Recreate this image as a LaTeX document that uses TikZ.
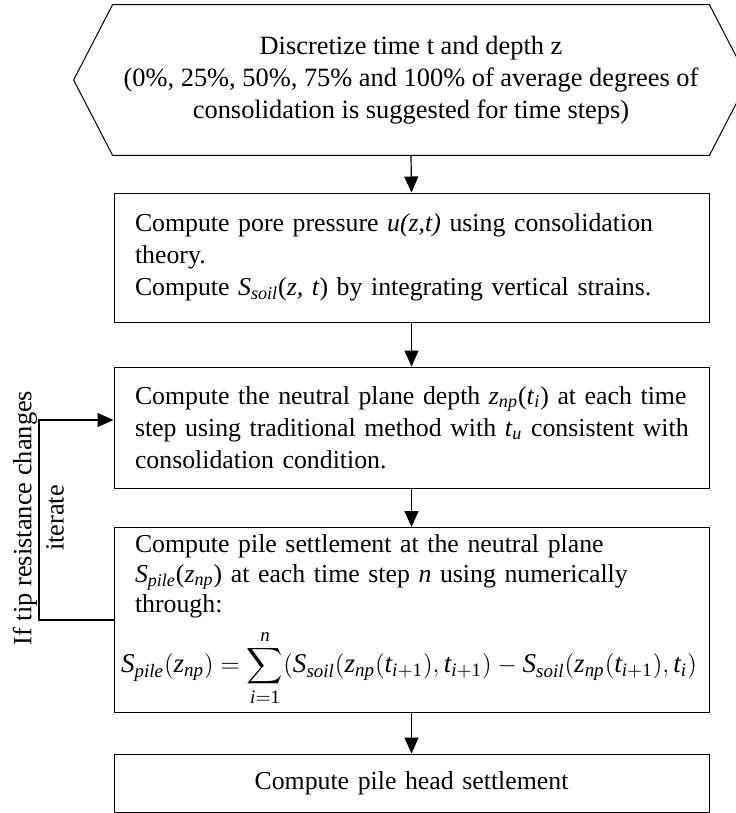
\documentclass[tikz,border=0pt]{standalone}
\usepackage{fontspec}
\setmainfont{Liberation Serif}
\usepackage{amsmath}
\usepackage{graphicx}
\usetikzlibrary{arrows.meta,calc}
\newcommand\mi[1]{\textit{#1}}
\begin{document}
\begin{tikzpicture}[x=0.5pt,y=-0.5pt,
  font=\fontsize{13.2}{16}\selectfont,
  box/.style={draw, line width=0.5pt, minimum width=297.5pt, text width=276.5pt,
    inner xsep=10.5pt, align=left, font=\fontsize{12.9}{16}\selectfont},
  arr/.style={-{Triangle[length=8pt,width=7pt]}, line width=0.6pt},
  lbl/.style={rotate=90, inner sep=0pt}]
\useasboundingbox (0,0) rectangle (735,813);

% hexagon (start)
\node[align=center, minimum width=298pt, minimum height=75pt, inner sep=0pt] (hex) at (411,80)
  {Discretize time t and depth z\\(0\%, 25\%, 50\%, 75\% and 100\% of average degrees of\\consolidation is suggested for time steps)};
\draw[line width=0.5pt] (hex.north west) -- (hex.north east) -- ($(hex.east)+(39,0)$)
  -- (hex.south east) -- (hex.south west) -- ($(hex.west)+(-39,0)$) -- cycle;

\node[box, minimum height=64.5pt] (b2) at (411.5,257.5)
  {\mbox{Compute pore pressure \mi{u(z,t)} using consolidation}\\
   \mbox{theory.}\\
   \mbox{Compute \mi{S}\textsubscript{\mi{soil}}(\mi{z, t}) by integrating vertical strains.}};

\node[box, minimum height=60.5pt] (b3) at (411.5,427.5)
  {\mbox{Compute the neutral plane depth \mi{z}\textsubscript{\mi{np}}(\mi{t}\textsubscript{\mi{i}}) at each time}\\
   \mbox{step using traditional method with \mi{t}\textsubscript{\mi{u}} consistent with}\\
   \mbox{consolidation condition.}};

\node[box, minimum height=87pt, font=\fontsize{12.9}{15}\selectfont] (b4) at (411.5,620)
  {\mbox{Compute pile settlement at the neutral plane}\\
   \mbox{\mi{S}\textsubscript{\mi{pile}}(\mi{z}\textsubscript{\mi{np}}) at each time step \mi{n} using numerically}\\
   \mbox{through:}\\[5pt]
   \hspace*{-7pt}\scalebox{1.05}{$\displaystyle \mi{S}_{\mi{pile}}(\mi{z}_{\mi{np}}) = \sum_{\mi{i}=\textup{1}}^{\mi{n}}(\mi{S}_{\mi{soil}}(\mi{z}_{\mi{np}}(\mi{t}_{\mi{i}+\textup{1}}),\mi{t}_{\mi{i}+\textup{1}}) - \mi{S}_{\mi{soil}}(\mi{z}_{\mi{np}}(\mi{t}_{\mi{i}+\textup{1}}),\mi{t}_{\mi{i}})$}};

\node[box, minimum height=29pt, align=center] (b5) at (411.5,783)
  {Compute pile head settlement};

% connectors
\draw[arr] (hex.south) -- (b2.north);
\draw[arr] (b2.south) -- (b3.north);
\draw[arr] (b3.south) -- (b4.north);
\draw[arr] (b4.south) -- (b5.north);

% iteration loop
\coordinate (lb) at (39,620);
\coordinate (lt) at (39,420);
\draw[arr] (b4.west) -- (lb) -- (lt) -- (lt -| b3.west);
\node[lbl] (l1) at (25,518) {If tip resistance changes};
\node[lbl] (l2) at (55,518) {iterate};
\end{tikzpicture}
\end{document}
